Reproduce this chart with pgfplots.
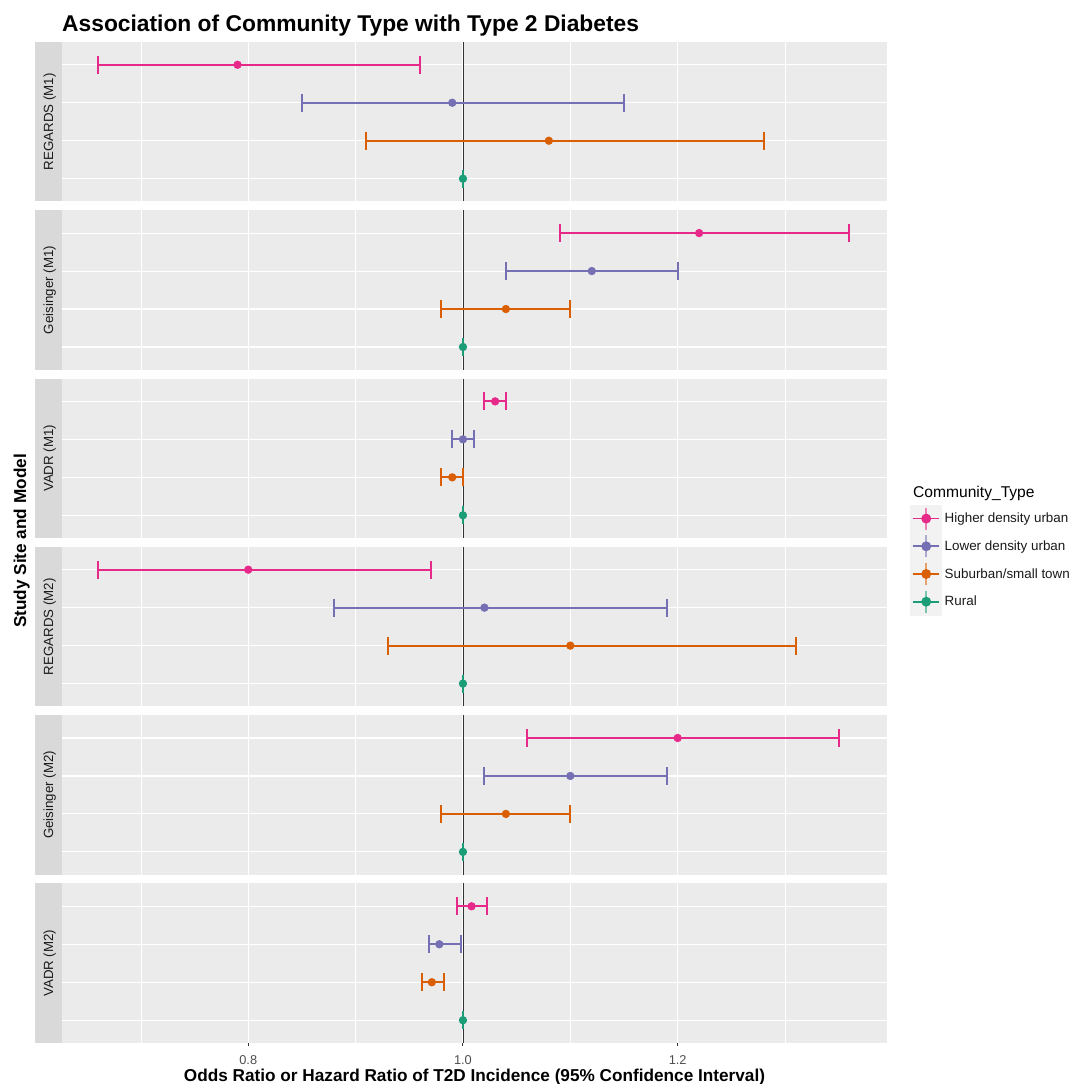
\documentclass[border=0pt]{standalone}
\usepackage{pgfplots}
\pgfplotsset{compat=1.18}
\usepackage{fontspec}
\setmainfont{Liberation Sans}

\definecolor{cPink}{HTML}{E7298A}
\definecolor{cPurple}{HTML}{7570B3}
\definecolor{cOrange}{HTML}{D95F02}
\definecolor{cGreen}{HTML}{1B9E77}
\definecolor{panelbg}{HTML}{EBEBEB}
\definecolor{stripbg}{HTML}{D9D9D9}
\definecolor{striptxt}{HTML}{1A1A1A}
\definecolor{ticktxt}{HTML}{4D4D4D}
\definecolor{tickc}{HTML}{333333}
\definecolor{keybg}{HTML}{F2F2F2}

\pgfplotsset{
  panel/.style={
    scale only axis, width=825bp, height=159.5bp,
    anchor=north west,
    xmin=0.6265, xmax=1.395, ymin=0.4, ymax=4.6,
    axis background/.style={fill=panelbg},
    axis line style={draw=none},
    xtick={0.8,1.0,1.2}, minor xtick={0.7,0.9,1.1,1.3},
    ytick={1,2,3,4}, yticklabels={}, xticklabels={},
    grid=both,
    major grid style={white, line width=1.1bp},
    minor grid style={white, line width=0.55bp},
    xtick style={draw=none}, ytick style={draw=none},
    minor tick length=0pt,
    clip=false,
    legend image code/.code={
      \fill[keybg] (0bp,-12.85bp) rectangle (30bp,12.85bp);
      \draw[line width=1.8bp] (2bp,0bp) -- (28bp,0bp);
      \draw[line width=1.8bp, opacity=0.55] (15bp,-11bp) -- (15bp,11bp);
      \fill (15bp,0bp) circle (3.9bp);
    },
  },
}

% \ci{colour}{y}{estimate}{lower}{upper}
\newcommand{\ci}[5]{%
  \addplot[forget plot, color=#1, line width=2bp, mark=none]
    coordinates {(#4,#2) (#5,#2)};
  \addplot[forget plot, color=#1, line width=2bp, only marks, mark=|, mark size=9bp,
    mark options={solid, line width=2bp}] coordinates {(#4,#2) (#5,#2)};
  \addplot[color=#1, line width=2bp, mark=*, mark size=3.1bp]
    coordinates {(#3,#2)};
}
\newcommand{\vref}{%
  \addplot[forget plot, tickc, line width=0.9bp] coordinates {(1,0.4) (1,4.6)};
}
\newcommand{\strip}[1]{%
  \fill[stripbg] ([xshift=-27bp]rel axis cs:0,0) rectangle (rel axis cs:0,1);
  \node[rotate=90, anchor=base, text=striptxt, font=\fontsize{13.3bp}{15bp}\selectfont]
    at ([xshift=-9bp]rel axis cs:0,0.5) {#1};
}

\begin{document}
\begin{tikzpicture}
% title
\node[anchor=base west, inner sep=0pt, font=\bfseries\fontsize{22.8bp}{26bp}\selectfont]
  at (62bp,1052bp) {Association of Community Type with Type 2 Diabetes};
% y label
\node[rotate=90, anchor=base, inner sep=0pt, font=\bfseries\fontsize{17.2bp}{20bp}\selectfont]
  at (26bp,543bp) {Study Site and Model};

% REGARDS (M1)
\begin{axis}[panel, at={(62bp,1042bp)},
  legend entries={Higher density urban, Lower density urban, Suburban/small town, Rural},
  legend cell align=left,
  legend style={at={(1.0279,-1.900)}, anchor=north west, draw=none, fill=none,
    inner sep=0pt, row sep=0pt, text=black!90,
    font=\fontsize{13.4bp}{15bp}\selectfont,
    nodes={inner xsep=2.5bp, inner ysep=0pt},
    label={[anchor=south west, inner sep=0pt, xshift=3bp, yshift=3.5bp,
      font=\fontsize{15.6bp}{18bp}\selectfont]north west:Community\_Type}},
]
\vref
\ci{cPink}{4}{0.79}{0.66}{0.96}
\ci{cPurple}{3}{0.99}{0.85}{1.15}
\ci{cOrange}{2}{1.08}{0.91}{1.28}
\ci{cGreen}{1}{1.00}{1.00}{1.00}
\strip{REGARDS (M1)}
\end{axis}

% Geisinger (M1)
\begin{axis}[panel, at={(62bp,873.7bp)}]
\vref
\ci{cPink}{4}{1.22}{1.09}{1.36}
\ci{cPurple}{3}{1.12}{1.04}{1.20}
\ci{cOrange}{2}{1.04}{0.98}{1.10}
\ci{cGreen}{1}{1.00}{1.00}{1.00}
\strip{Geisinger (M1)}
\end{axis}

% VADR (M1)
\begin{axis}[panel, at={(62bp,705.4bp)}]
\vref
\ci{cPink}{4}{1.03}{1.02}{1.04}
\ci{cPurple}{3}{1.00}{0.99}{1.01}
\ci{cOrange}{2}{0.99}{0.98}{1.00}
\ci{cGreen}{1}{1.00}{1.00}{1.00}
\strip{VADR (M1)}
\end{axis}

% REGARDS (M2)
\begin{axis}[panel, at={(62bp,537.1bp)}]
\vref
\ci{cPink}{4}{0.80}{0.66}{0.97}
\ci{cPurple}{3}{1.02}{0.88}{1.19}
\ci{cOrange}{2}{1.10}{0.93}{1.31}
\ci{cGreen}{1}{1.00}{1.00}{1.00}
\strip{REGARDS (M2)}
\end{axis}

% Geisinger (M2)
\begin{axis}[panel, at={(62bp,368.8bp)}]
\vref
\ci{cPink}{4}{1.20}{1.06}{1.35}
\ci{cPurple}{3}{1.10}{1.02}{1.19}
\ci{cOrange}{2}{1.04}{0.98}{1.10}
\ci{cGreen}{1}{1.00}{1.00}{1.00}
\strip{Geisinger (M2)}
\end{axis}

% VADR (M2)
\begin{axis}[panel, at={(62bp,200.5bp)},
  xticklabels={0.8,1.0,1.2},
  xtick pos=bottom, tick align=outside, major tick length=3bp,
  xtick style={draw=tickc, line width=1bp},
  xticklabel style={anchor=north, inner sep=0pt, yshift=-9bp, text=ticktxt,
    font=\fontsize{12.8bp}{14bp}\selectfont},
  xlabel={Odds Ratio or Hazard Ratio of T2D Incidence (95\% Confidence Interval)},
  xlabel style={at={(axis description cs:0.5,0)}, anchor=north, inner sep=0pt,
    yshift=-25.5bp, font=\bfseries\fontsize{17.2bp}{20bp}\selectfont},
]
\vref
\ci{cPink}{4}{1.008}{0.994}{1.022}
\ci{cPurple}{3}{0.978}{0.968}{0.998}
\ci{cOrange}{2}{0.971}{0.962}{0.982}
\ci{cGreen}{1}{1.000}{1.000}{1.000}
\strip{VADR (M2)}
\end{axis}

\pgfresetboundingbox
\useasboundingbox (0bp,0bp) rectangle (1070bp,1084bp);
\end{tikzpicture}
\end{document}
